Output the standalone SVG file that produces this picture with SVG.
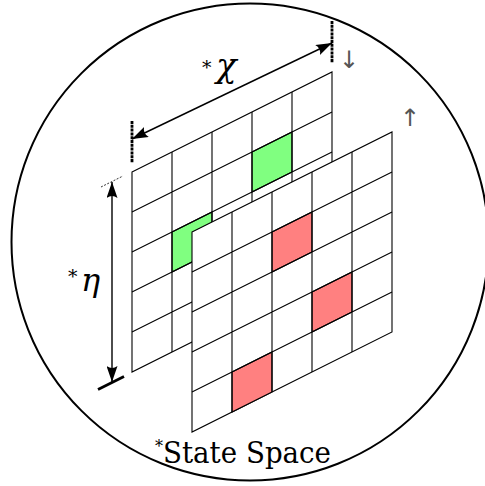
<svg xmlns="http://www.w3.org/2000/svg" width="485" height="486" viewBox="0 0 485 486">
<style>
.grid{fill:none;stroke:#000;stroke-width:1.1}
.sheet{fill:#fff;stroke:#000;stroke-width:1.1}
.green{fill:#80ff80;stroke:#000;stroke-width:1.1}
.red{fill:#ff8080;stroke:#000;stroke-width:1.1}
.dim{fill:none;stroke:#000;stroke-width:1.4}
.tick{stroke:#000;stroke-width:2.8;stroke-dasharray:3 0.8}
</style>
<defs>
<marker id="ah" viewBox="0 0 16 11" refX="16" refY="5.5" markerWidth="16" markerHeight="11" markerUnits="userSpaceOnUse" orient="auto-start-reverse">
<path d="M0,0 Q4,5.5 0,11 L16,5.5 Z" fill="#000"/>
</marker>
</defs>
<circle cx="250" cy="242" r="238.5" fill="none" stroke="#000" stroke-width="2"/>

<g id="back-sheet">
<polygon class="sheet" points="132,172 332,72 332,272 132,372"/>
<polygon class="green" points="252,152 292,132 292,172 252,192"/>
<polygon class="green" points="172,232 212,212 212,252 172,272"/>
<path class="grid" d="M172,152V352M212,132V332M252,112V312M292,92V292M132,212L332,112M132,252L332,152M132,292L332,192M132,332L332,232"/>
</g>

<g id="front-sheet">
<polygon class="sheet" points="192,232 392,132 392,332 192,432"/>
<polygon class="red" points="272,232 312,212 312,252 272,272"/>
<polygon class="red" points="312,292 352,272 352,312 312,332"/>
<polygon class="red" points="232,372 272,352 272,392 232,412"/>
<path class="grid" d="M232,212V412M272,192V392M312,172V372M352,152V352M192,272L392,172M192,312L392,212M192,352L392,252M192,392L392,292"/>
</g>

<g id="connectors">
<line class="tick" x1="132" y1="121" x2="132" y2="163"/>
<line class="tick" x1="332" y1="21" x2="332" y2="63"/>
<line class="dim" x1="132" y1="139" x2="332" y2="43" marker-start="url(#ah)" marker-end="url(#ah)"/>
<line x1="101" y1="187" x2="123" y2="176" stroke="#000" stroke-width="0.8" stroke-dasharray="2 1.5"/>
<line x1="98" y1="389.5" x2="124" y2="376.5" stroke="#000" stroke-width="2.8"/>
<line class="dim" x1="112" y1="182" x2="112" y2="382" marker-start="url(#ah)" marker-end="url(#ah)"/>
</g>

<g id="labels">
<text x="202" y="74" font-size="19" font-family="DejaVu Serif">*</text>
<text x="216" y="77" font-size="34" font-style="italic" font-family="DejaVu Serif">χ</text>
<text x="68" y="283" font-size="19" font-family="DejaVu Serif">*</text>
<text x="81" y="291" font-size="32" font-style="italic" font-family="DejaVu Serif">η</text>
<text x="349" y="68" font-size="24" text-anchor="middle" fill="#555" font-family="DejaVu Sans">↓︎</text>
<text x="410" y="126" font-size="24" text-anchor="middle" fill="#555" font-family="DejaVu Sans">↑︎</text>
<text x="155" y="463" font-family="DejaVu Serif"><tspan font-size="16" dy="-11">*</tspan><tspan font-size="29" dy="11" textLength="168" lengthAdjust="spacingAndGlyphs">State Space</tspan></text>
</g>
</svg>
